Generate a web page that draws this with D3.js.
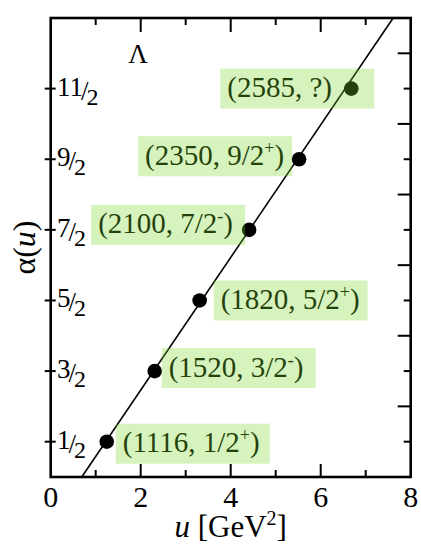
<!DOCTYPE html>
<html><head><meta charset="utf-8">
<script src="https://cdn.jsdelivr.net/npm/d3@7"></script>
<style>
html,body{margin:0;padding:0;background:#fff;}
text{font-family:"Liberation Serif","Times New Roman",serif;fill:#000;}
</style></head>
<body><svg id="c" width="421" height="545"></svg>
<script>
// ---- data ----
const masses = ["1116", "1520", "1820", "2100", "2350", "2585"];
const spinLabels = ["1/2", "3/2", "5/2", "7/2", "9/2", "?"];
const parities = ["+", "-", "+", "-", "+", ""];
const uValues = [1.245, 2.31, 3.31, 4.41, 5.52, 6.68];
const alphaValues = [0.5, 1.5, 2.5, 3.5, 4.5, 5.5];
const lineU = [0.69, 7.61];
const lineAlpha = [0, 6.5];
const xTicks = [0, 2, 4, 6, 8];
const xMinor = [1, 3, 5, 7];
const yTickNum = ["1", "3", "5", "7", "9", "11"];
const yTickVals = [0.5, 1.5, 2.5, 3.5, 4.5, 5.5];
const yRightMajor = [1, 2, 3, 4, 5, 6];

// ---- layout (label box offsets relative to point) ----
const labelLayout = [
  {side: "right", dx: 9, dy: 2},
  {side: "right", dx: 7, dy: -3},
  {side: "right", dx: 14, dy: 0},
  {side: "left", dx: -4, dy: -5},
  {side: "left", dx: -7, dy: -3},
  {side: "left", dx: 23, dy: 0}
];

const svg = d3.select("#c");
const L = 50.7, R = 410.7, T = 18, B = 477;
const x = d3.scaleLinear().domain([0, 8]).range([L, R]);
const y = d3.scaleLinear().domain([0, 6.5]).range([B, T]);

// fit line
const lineData = lineU.map((u, i) => ({u, a: lineAlpha[i]}));
svg.append("path").datum(lineData)
  .attr("d", d3.line().x(d => x(d.u)).y(d => y(d.a)))
  .attr("stroke", "#000").attr("stroke-width", 1.6).attr("fill", "none");

// points
const pts = uValues.map((u, i) => ({u, a: alphaValues[i], m: masses[i], s: spinLabels[i], p: parities[i], lay: labelLayout[i]}));
svg.selectAll("circle.pt").data(pts).join("circle")
  .attr("cx", d => x(d.u)).attr("cy", d => y(d.a)).attr("r", 7.3).attr("fill", "#000");

// labels (text drawn first, translucent green box over it)
const boxW = 154, boxH = 40;
pts.forEach(d => {
  const px = x(d.u), py = y(d.a);
  const bx = d.lay.side === "right" ? px + d.lay.dx : px + d.lay.dx - boxW;
  const by = py + d.lay.dy - boxH / 2;
  const t = svg.append("text").attr("x", bx + 7).attr("y", by + 28.5)
    .attr("font-size", 29);
  t.append("tspan").text("(" + d.m + ", " + d.s);
  if (d.p) {
    t.append("tspan").attr("font-size", 18).attr("dy", -11).text(d.p === "-" ? "-" : "+");
    t.append("tspan").attr("dy", 11).text(")");
  } else {
    t.append("tspan").text(")");
  }
  svg.append("rect").attr("x", bx).attr("y", by).attr("width", boxW).attr("height", boxH)
    .attr("fill", "rgb(120,215,40)").attr("fill-opacity", 0.3);
});

// frame
svg.append("rect").attr("x", L).attr("y", T).attr("width", R - L).attr("height", B - T)
  .attr("fill", "none").attr("stroke", "#000").attr("stroke-width", 2.6);

// bottom/top ticks
const tk = svg.append("g").attr("stroke", "#000").attr("stroke-width", 2);
xTicks.slice(1, -1).forEach(v => {
  tk.append("line").attr("x1", x(v)).attr("x2", x(v)).attr("y1", B).attr("y2", B - 13);
  tk.append("line").attr("x1", x(v)).attr("x2", x(v)).attr("y1", T).attr("y2", T + 14);
});
xMinor.forEach(v => {
  tk.append("line").attr("x1", x(v)).attr("x2", x(v)).attr("y1", B).attr("y2", B - 7);
  tk.append("line").attr("x1", x(v)).attr("x2", x(v)).attr("y1", T).attr("y2", T + 7);
});
// right ticks
yRightMajor.forEach(v => {
  tk.append("line").attr("x1", R).attr("x2", R - 13).attr("y1", y(v)).attr("y2", y(v));
});
yTickVals.forEach(v => {
  tk.append("line").attr("x1", R).attr("x2", R - 7).attr("y1", y(v)).attr("y2", y(v));
  tk.append("line").attr("x1", L - 6).attr("x2", L + 5).attr("y1", y(v)).attr("y2", y(v));
});

// x tick labels
svg.selectAll("text.xt").data(xTicks).join("text").attr("class", "xt")
  .attr("x", d => x(d)).attr("y", 507).attr("text-anchor", "middle")
  .attr("font-size", 30).text(d => d);

// y tick labels (fractions)
yTickVals.forEach((v, i) => {
  const ty = y(v);
  const t = svg.append("text").attr("x", 57).attr("y", ty + 7).attr("font-size", 27);
  t.append("tspan").text(yTickNum[i]);
  t.append("tspan").attr("dx", -2).attr("dy", 4).text("/");
  t.append("tspan").attr("dx", -2).attr("dy", 5).attr("font-size", 24).text("2");
});

// Lambda
svg.append("text").attr("x", 138).attr("y", 63).attr("text-anchor", "middle")
  .attr("font-size", 27).text("Λ");

// axis titles
const xl = svg.append("text").attr("x", x(4)).attr("y", 537).attr("text-anchor", "middle").attr("font-size", 31);
xl.append("tspan").attr("font-style", "italic").text("u");
xl.append("tspan").text(" [GeV");
xl.append("tspan").attr("font-size", 20).attr("dy", -12).text("2");
xl.append("tspan").attr("dy", 12).text("]");

const yl = svg.append("text").attr("transform", `translate(35,${(T + B) / 2}) rotate(-90)`)
  .attr("text-anchor", "middle").attr("font-size", 32);
yl.append("tspan").text("α(");
yl.append("tspan").attr("font-style", "italic").text("u");
yl.append("tspan").text(")");
</script></body></html>
